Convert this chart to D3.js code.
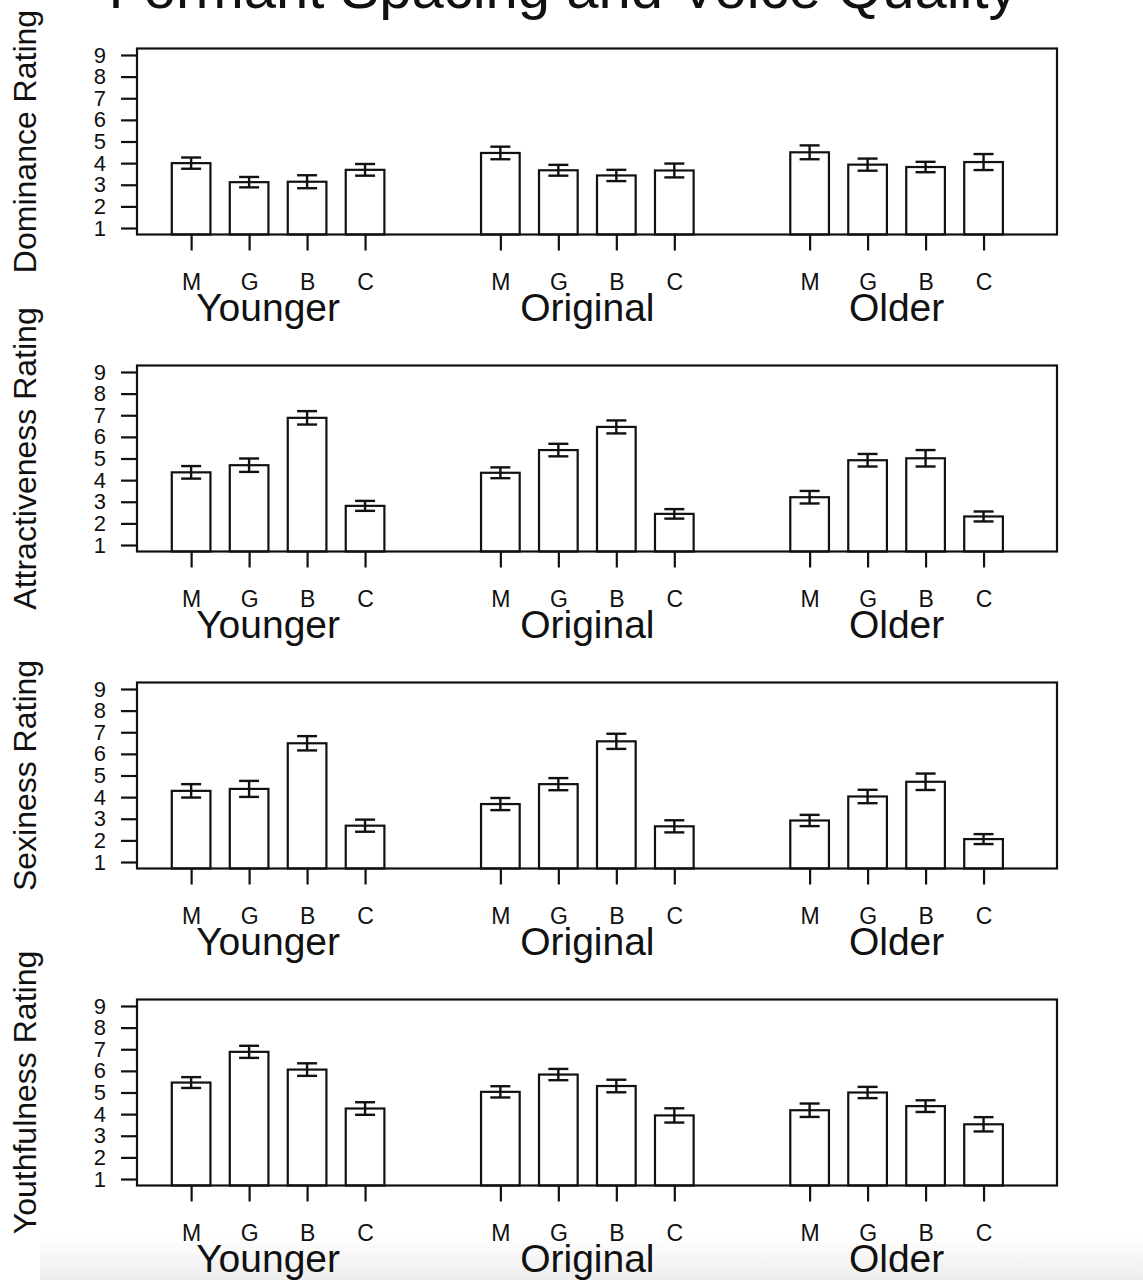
<!DOCTYPE html>
<html>
<head>
<meta charset="utf-8">
<script src="https://cdn.jsdelivr.net/npm/d3@7"></script>
<style>
  body { margin: 0; background: #fff; }
  text { font-family: 'Liberation Sans', Arial, Helvetica, sans-serif; fill: #111; }
</style>
</head>
<body>
<div id="chart"></div>
<script>
const title = 'Formant Spacing and Voice Quality';
const groups = ['Younger', 'Original', 'Older'];
const conditions = ['M', 'G', 'B', 'C'];
const ratings = ['Dominance Rating', 'Attractiveness Rating', 'Sexiness Rating', 'Youthfulness Rating'];
const yTicks = [1, 2, 3, 4, 5, 6, 7, 8, 9];

// means / standard errors, ordered Younger M G B C, Original M G B C, Older M G B C
const dominanceMeans = [4.0, 3.12, 3.14, 3.69, 4.47, 3.67, 3.43, 3.66, 4.5, 3.93, 3.82, 4.05];
const dominanceErrors = [0.26, 0.24, 0.30, 0.27, 0.29, 0.25, 0.26, 0.32, 0.32, 0.28, 0.24, 0.37];
const attractivenessMeans = [4.36, 4.69, 6.88, 2.81, 4.34, 5.39, 6.46, 2.44, 3.21, 4.92, 5.01, 2.32];
const attractivenessErrors = [0.29, 0.31, 0.31, 0.23, 0.25, 0.29, 0.30, 0.22, 0.29, 0.29, 0.38, 0.23];
const sexinessMeans = [4.29, 4.38, 6.49, 2.68, 3.68, 4.6, 6.58, 2.65, 2.92, 4.03, 4.71, 2.06];
const sexinessErrors = [0.31, 0.37, 0.33, 0.28, 0.28, 0.28, 0.35, 0.28, 0.26, 0.31, 0.38, 0.23];
const youthfulnessMeans = [5.46, 6.88, 6.06, 4.26, 5.03, 5.83, 5.3, 3.94, 4.18, 5.0, 4.37, 3.53];
const youthfulnessErrors = [0.25, 0.28, 0.29, 0.29, 0.26, 0.26, 0.29, 0.33, 0.31, 0.26, 0.27, 0.33];

const panels = [
  { label: ratings[0], means: dominanceMeans, errors: dominanceErrors },
  { label: ratings[1], means: attractivenessMeans, errors: attractivenessErrors },
  { label: ratings[2], means: sexinessMeans, errors: sexinessErrors },
  { label: ratings[3], means: youthfulnessMeans, errors: youthfulnessErrors }
];

const width = 1143;
const height = 1280;
const boxLeft = 137;
const boxRight = 1057;
const boxTop0 = 48.5;
const boxHeight = 186;
const panelStep = 317;

// bar units: width 1, 0.5 space inside a group, groups 8 units apart
const x = d3.scaleLinear().domain([-0.9, 22.9]).range([boxLeft, boxRight]);
const barLeft = (g, i) => g * 8 + i * 1.5;

const items = [];
groups.forEach((g, gi) => conditions.forEach((c, ci) => items.push({ group: g, gi, cond: c, ci, k: gi * 4 + ci })));

const svg = d3.select('#chart').append('svg')
  .attr('width', width)
  .attr('height', height);

svg.append('rect').attr('width', width).attr('height', height).attr('fill', '#fff');

svg.append('text')
  .attr('x', 563)
  .attr('y', 8)
  .attr('text-anchor', 'middle')
  .attr('font-size', 58)
  .text(title);

panels.forEach((p, pi) => {
  const top = boxTop0 + pi * panelStep;
  const bottom = top + boxHeight;
  const y = d3.scaleLinear().domain([0.7, 9.3]).range([bottom, top]);

  const g = svg.append('g');

  // bars
  g.selectAll('.bar')
    .data(items)
    .enter().append('rect')
    .attr('class', 'bar')
    .attr('x', d => x(barLeft(d.gi, d.ci)))
    .attr('width', d => x(barLeft(d.gi, d.ci) + 1) - x(barLeft(d.gi, d.ci)))
    .attr('y', d => y(p.means[d.k]))
    .attr('height', d => bottom - y(p.means[d.k]))
    .attr('fill', '#fff')
    .attr('stroke', '#111')
    .attr('stroke-width', 2.2);

  // error bars
  const capHalf = 10;
  const eb = g.selectAll('.err')
    .data(items)
    .enter().append('g')
    .attr('class', 'err')
    .attr('stroke', '#111')
    .attr('stroke-width', 2.4);
  const cx = d => x(barLeft(d.gi, d.ci) + 0.5);
  eb.append('line')
    .attr('x1', cx).attr('x2', cx)
    .attr('y1', d => y(p.means[d.k] + p.errors[d.k]))
    .attr('y2', d => y(p.means[d.k] - p.errors[d.k]));
  eb.append('line')
    .attr('x1', d => cx(d) - capHalf).attr('x2', d => cx(d) + capHalf)
    .attr('y1', d => y(p.means[d.k] + p.errors[d.k]))
    .attr('y2', d => y(p.means[d.k] + p.errors[d.k]));
  eb.append('line')
    .attr('x1', d => cx(d) - capHalf).attr('x2', d => cx(d) + capHalf)
    .attr('y1', d => y(p.means[d.k] - p.errors[d.k]))
    .attr('y2', d => y(p.means[d.k] - p.errors[d.k]));

  // box
  g.append('rect')
    .attr('x', boxLeft)
    .attr('y', top)
    .attr('width', boxRight - boxLeft)
    .attr('height', boxHeight)
    .attr('fill', 'none')
    .attr('stroke', '#111')
    .attr('stroke-width', 2.2);

  // y axis
  const yAxis = g.append('g')
    .attr('transform', 'translate(' + boxLeft + ',0)')
    .call(d3.axisLeft(y).tickValues(yTicks).tickSize(16).tickPadding(15));
  yAxis.select('.domain').remove();
  yAxis.selectAll('line').attr('stroke', '#111').attr('stroke-width', 2.2);
  yAxis.selectAll('text')
    .attr('font-size', 22)
    .attr('font-family', "'Liberation Sans', Arial, sans-serif")
    .attr('fill', '#111');

  // x axis: conditions under each bar
  const xAxis = g.append('g')
    .attr('transform', 'translate(0,' + bottom + ')')
    .call(d3.axisBottom(x)
      .tickValues(items.map(d => barLeft(d.gi, d.ci) + 0.5))
      .tickFormat((v, i) => items[i].cond)
      .tickSize(16)
      .tickPadding(23));
  xAxis.select('.domain').remove();
  xAxis.selectAll('line').attr('stroke', '#111').attr('stroke-width', 2.2);
  xAxis.selectAll('text')
    .attr('font-size', 23)
    .attr('font-family', "'Liberation Sans', Arial, sans-serif")
    .attr('fill', '#111');

  // group labels
  g.selectAll('.grp')
    .data(groups)
    .enter().append('text')
    .attr('class', 'grp')
    .attr('x', (d, gi) => x(barLeft(gi, 0) + 2.75) - (gi === 0 ? 10 : 0))
    .attr('y', bottom + 86)
    .attr('text-anchor', 'middle')
    .attr('font-size', 39)
    .text(d => d);

  // y label
  g.append('text')
    .attr('transform', 'translate(36,' + (top + boxHeight / 2) + ') rotate(-90)')
    .attr('text-anchor', 'middle')
    .attr('font-size', 32)
    .text(p.label);
});

// faint shading at the very bottom of the screenshot
const defs = svg.append('defs');
const grad = defs.append('linearGradient').attr('id', 'shade').attr('x1', 0).attr('x2', 0).attr('y1', 0).attr('y2', 1);
grad.append('stop').attr('offset', '0%').attr('stop-color', '#000').attr('stop-opacity', 0);
grad.append('stop').attr('offset', '100%').attr('stop-color', '#000').attr('stop-opacity', 0.07);
svg.append('rect')
  .attr('x', 40)
  .attr('y', 1236)
  .attr('width', width - 40)
  .attr('height', 44)
  .attr('fill', 'url(#shade)');
</script>
</body>
</html>
